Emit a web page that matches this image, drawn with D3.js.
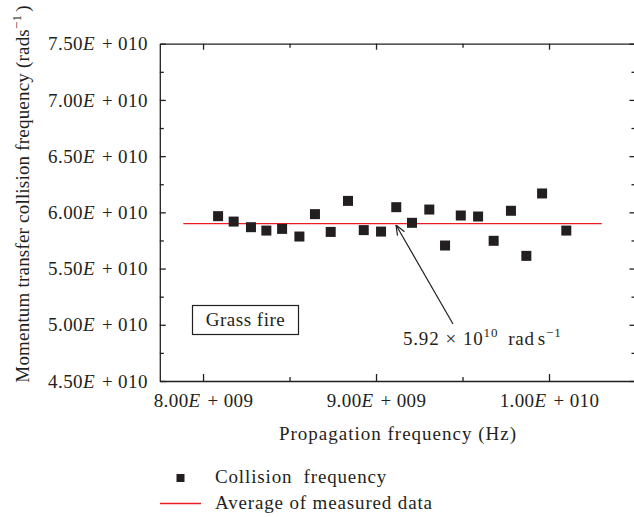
<!DOCTYPE html>
<html>
<head>
<meta charset="utf-8">
<script src="https://cdn.jsdelivr.net/npm/d3@7"></script>
<style>
  body { margin: 0; background: #fff; }
  svg { display: block; font-family: "Liberation Serif", "Times New Roman", serif; }
  .axis path, .axis line { stroke: #231f20; stroke-width: 1.3; }
  .axis text { font-size: 19px; fill: #231f20; font-family: "Liberation Serif", serif; letter-spacing: 0.4px; }
</style>
</head>
<body>
<div id="chart"></div>
<script>
// values
var freqHz = [8.087e9, 8.177e9, 8.277e9, 8.366e9, 8.457e9, 8.557e9, 8.647e9, 8.738e9,
  8.838e9, 8.929e9, 9.029e9, 9.117e9, 9.208e9, 9.308e9, 9.399e9, 9.490e9,
  9.590e9, 9.680e9, 9.780e9, 9.869e9, 9.960e9, 1.010e10]
var collisionFreq = [5.966e10, 5.918e10, 5.868e10, 5.838e10, 5.853e10, 5.785e10, 5.984e10, 5.826e10,
  6.102e10, 5.842e10, 5.829e10, 6.046e10, 5.907e10, 6.025e10, 5.705e10, 5.972e10,
  5.963e10, 5.747e10, 6.014e10, 5.613e10, 6.168e10, 5.838e10]
var avgLine = [[7.886e9, 5.90e10], [1.0305e10, 5.90e10]]
var xTicks = [8e9, 9e9, 1e10]
var xMinor = [8.5e9, 9.5e9]
var yTicks = [4.5e10, 5e10, 5.5e10, 6e10, 6.5e10, 7e10, 7.5e10]
var yMinor = [4.75e10, 5.25e10, 5.75e10, 6.25e10, 6.75e10, 7.25e10]
var legendItems = ["Collision  frequency", "Average of measured data"]

var W = 634, H = 517
var margin = {top: 43.7, left: 159.8, right: -1.5, bottom: 136}
var width = W - margin.left - margin.right,
    height = H - margin.top - margin.bottom

var svg = d3.select("#chart").append("svg")
  .attr("width", W)
  .attr("height", H)

var g = svg.append("g")
  .attr("transform", "translate(" + margin.left + "," + margin.top + ")")

var x = d3.scaleLinear().domain([7.75e9, 1.05e10]).range([0, width])
var y = d3.scaleLinear().domain([4.5e10, 7.5e10]).range([height, 0])

function sci(v) {
  var e = Math.floor(Math.log10(v) + 1e-9)
  var m = (v / Math.pow(10, e)).toFixed(2)
  return [m, String(e).padStart(3, "0")]
}

function fancyLabels(sel) {
  sel.selectAll(".tick text").each(function(d) {
    var p = sci(d), t = d3.select(this)
    t.text(null)
    t.append("tspan").text(p[0])
    t.append("tspan").attr("font-style", "italic").text("E")
    t.append("tspan").attr("dx", 7).text("+")
    t.append("tspan").attr("dx", 5).text(p[1])
  })
}

// left
g.append("g").attr("class", "axis")
  .call(d3.axisLeft(y).tickValues(yTicks).tickSizeInner(-6).tickSizeOuter(0).tickPadding(12))
  .call(fancyLabels)
g.append("g").attr("class", "axis")
  .call(d3.axisLeft(y).tickValues(yMinor).tickSizeInner(-4).tickSizeOuter(0).tickFormat(""))
  .call(s => s.select(".domain").remove())

// right
g.append("g").attr("class", "axis").attr("transform", "translate(" + width + ",0)")
  .call(d3.axisRight(y).tickValues(yTicks).tickSizeInner(-6).tickSizeOuter(0).tickFormat(""))
g.append("g").attr("class", "axis").attr("transform", "translate(" + width + ",0)")
  .call(d3.axisRight(y).tickValues(yMinor).tickSizeInner(-4).tickSizeOuter(0).tickFormat(""))
  .call(s => s.select(".domain").remove())

// bottom
g.append("g").attr("class", "axis").attr("transform", "translate(0," + height + ")")
  .call(d3.axisBottom(x).tickValues(xTicks).tickSizeInner(-7).tickSizeOuter(0).tickPadding(13))
  .call(fancyLabels)
g.append("g").attr("class", "axis").attr("transform", "translate(0," + height + ")")
  .call(d3.axisBottom(x).tickValues(xMinor).tickSizeInner(-4).tickSizeOuter(0).tickFormat(""))
  .call(s => s.select(".domain").remove())

// top
g.append("g").attr("class", "axis")
  .call(d3.axisTop(x).tickValues(xTicks).tickSizeInner(-6).tickSizeOuter(0).tickFormat(""))
g.append("g").attr("class", "axis")
  .call(d3.axisTop(x).tickValues(xMinor).tickSizeInner(-4).tickSizeOuter(0).tickFormat(""))
  .call(s => s.select(".domain").remove())

// average line
g.append("path")
  .datum(avgLine)
  .attr("fill", "none")
  .attr("stroke", "#ec1c24")
  .attr("stroke-width", 1.4)
  .attr("d", d3.line().x(d => x(d[0])).y(d => y(d[1])))

// squares
var sq = 10
g.selectAll(".pt")
  .data(freqHz)
  .enter()
  .append("rect")
  .attr("class", "pt")
  .attr("x", (d, i) => x(d) - sq / 2)
  .attr("y", (d, i) => y(collisionFreq[i]) - sq / 2)
  .attr("width", sq)
  .attr("height", sq)
  .attr("fill", "#231f20")

// arrow + annotation
svg.append("defs").append("marker")
  .attr("id", "head")
  .attr("viewBox", "0 0 10 10")
  .attr("refX", 10).attr("refY", 5)
  .attr("markerWidth", 10).attr("markerHeight", 10)
  .attr("markerUnits", "userSpaceOnUse")
  .attr("orient", "auto")
  .append("path")
  .attr("d", "M0,1 L10,5 L0,9")
  .attr("fill", "none")
  .attr("stroke", "#231f20")
  .attr("stroke-width", 1.2)

svg.append("line")
  .attr("x1", 453).attr("y1", 324)
  .attr("x2", 396).attr("y2", 225)
  .attr("stroke", "#231f20")
  .attr("stroke-width", 1.2)
  .attr("marker-end", "url(#head)")

var ann = svg.append("text")
  .attr("x", 403).attr("y", 345)
  .attr("font-size", 19)
  .attr("letter-spacing", 0.8)
  .attr("fill", "#231f20")
ann.append("tspan").text("5.92")
ann.append("tspan").attr("dx", 6).text("\u00d7")
ann.append("tspan").attr("dx", 6).text("10")
ann.append("tspan").attr("dy", -8).attr("font-size", 13).text("10")
ann.append("tspan").attr("dy", 8).attr("dx", 10).text("rad")
ann.append("tspan").attr("dx", 3).text("s")
ann.append("tspan").attr("dy", -8).attr("font-size", 13).text("\u22121")

// Grass fire box
svg.append("rect")
  .attr("x", 192.5).attr("y", 305.5)
  .attr("width", 106).attr("height", 29)
  .attr("fill", "none")
  .attr("stroke", "#231f20")
  .attr("stroke-width", 1.2)
svg.append("text")
  .attr("x", 245.5).attr("y", 326)
  .attr("text-anchor", "middle")
  .attr("font-size", 19)
  .attr("letter-spacing", 0.5)
  .attr("fill", "#231f20")
  .text("Grass fire")

// axis titles
svg.append("text")
  .attr("x", 398).attr("y", 440)
  .attr("text-anchor", "middle")
  .attr("font-size", 19)
  .attr("letter-spacing", 1)
  .attr("fill", "#231f20")
  .text("Propagation frequency (Hz)")

var yl = svg.append("text")
  .attr("transform", "translate(29,194) rotate(-90)")
  .attr("text-anchor", "middle")
  .attr("font-size", 19)
  .attr("letter-spacing", 0.2)
  .attr("fill", "#231f20")
yl.append("tspan").text("Momentum transfer collision frequency (rads")
yl.append("tspan").attr("dy", -8).attr("font-size", 13).text("\u22121")
yl.append("tspan").attr("dy", 8).attr("dx", 3).text(")")

// legend
var leg = svg.append("g")
leg.append("rect")
  .attr("x", 176.5).attr("y", 474).attr("width", 8).attr("height", 8)
  .attr("fill", "#231f20")
leg.append("line")
  .attr("x1", 160).attr("x2", 201).attr("y1", 503.5).attr("y2", 503.5)
  .attr("stroke", "#ec1c24").attr("stroke-width", 1.3)
leg.selectAll(".lt")
  .data(legendItems)
  .enter()
  .append("text")
  .attr("class", "lt")
  .attr("x", 215)
  .attr("y", (d, i) => 483 + i * 26)
  .attr("font-size", 19)
  .attr("letter-spacing", 0.85)
  .attr("fill", "#231f20")
  .attr("xml:space", "preserve")
  .style("white-space", "pre")
  .text(d => d)
</script>
</body>
</html>
